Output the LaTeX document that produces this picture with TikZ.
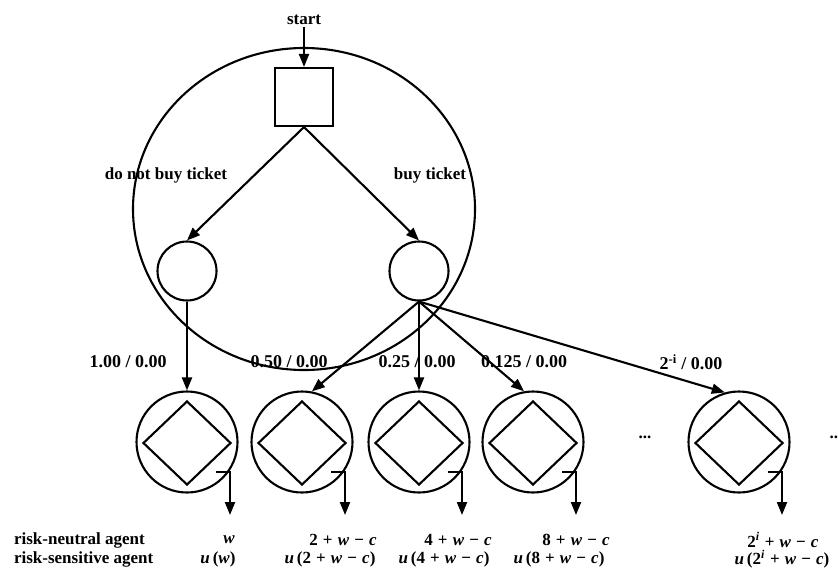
\documentclass[tikz,border=0pt]{standalone}
\usepackage{fontspec}
\setmainfont{Liberation Serif}
\usetikzlibrary{shapes.geometric,arrows.meta}

\newcommand{\itv}[1]{\textit{#1}}
\newcommand{\op}[1]{\hspace{0.3em}#1\hspace{0.3em}}

\tikzset{
  lbl/.style={font=\bfseries\fontsize{17}{19}\selectfont, inner sep=1pt},
  prob/.style={font=\bfseries\fontsize{18}{20}\selectfont, inner sep=1pt},
  arr/.style={-{Triangle[length=13pt,width=10pt]}},
  chance/.style={draw, circle, minimum size=59pt, inner sep=0pt},
  leaf/.style={draw, circle, minimum size=101pt, inner sep=0pt},
  gem/.style={draw, diamond, minimum width=88pt, minimum height=84pt, inner sep=0pt},
}

\begin{document}
\begin{tikzpicture}[x=1pt,y=-1pt,line width=2.1pt]
\useasboundingbox (0,0) rectangle (838,571);

\node[lbl] (start) at (304,20) {start};
\node[draw, minimum size=58pt, inner sep=0pt] (root) at (304,97) {};
\draw (304,209) ellipse [x radius=171pt, y radius=161pt];
\draw[arr] (start) -- (root);

\node[chance] (c1) at (187,271) {};
\node[chance] (c2) at (419,271) {};
\draw[arr] (root.south) -- (c1.north);
\draw[arr] (root.south) -- (c2.north);
\node[lbl] at (166,175) {do not buy ticket};
\node[lbl] at (430,175) {buy ticket};

% outcomes with their payoff arrows
\foreach \i/\x in {1/187,2/302,3/419,4/533,5/739} {
  \node[leaf] (l\i) at (\x,442) {};
  \node[gem] (d\i) at (\x,443) {};
  \coordinate (h\i) at (\x+29,472);
  \coordinate (o\i) at (\x+43,515);
  \draw[arr] (h\i) -| (o\i);
}

\draw[arr] (c1.south) -- (l1.north);
\draw[arr] (c2.south) -- (l2.79);
\draw[arr] (c2.south) -- (l3.north);
\draw[arr] (c2.south) -- (l4.100);
\draw[arr] (c2.south) -- (l5.106);

\node[prob] (p1) at (128,362) {1.00 / 0.00};
\node[prob] (p2) at (289,362) {0.50 / 0.00};
\node[prob] (p3) at (417,362) {0.25 / 0.00};
\node[prob] (p4) at (524,362) {0.125 / 0.00};
\node[prob] (p5) at (691,362) {2\textsuperscript{-i} / 0.00};

\node[lbl] (dots1) at (645,437) {...};
\node[lbl] (dots2) at (836,437) {...};

\node[lbl, anchor=west] (rn) at (12,540) {risk-neutral agent};
\node[lbl, anchor=west] (rs) at (12,559) {risk-sensitive agent};

\node[lbl] (v1) at (229,540) {\itv{w}};
\node[lbl] (v2) at (343,540) {2\op{+}\itv{w}\op{−}\itv{c}};
\node[lbl] (v3) at (458,540) {4\op{+}\itv{w}\op{−}\itv{c}};
\node[lbl] (v4) at (576,540) {8\op{+}\itv{w}\op{−}\itv{c}};
\node[lbl] (v5) at (783,540) {2\textsuperscript{\itv{i}}\op{+}\itv{w}\op{−}\itv{c}};

\node[lbl] (u1) at (218,559) {\itv{u}\,(\itv{w})};
\node[lbl] (u2) at (330,559) {\itv{u}\,(2\op{+}\itv{w}\op{−}\itv{c})};
\node[lbl] (u3) at (444,559) {\itv{u}\,(4\op{+}\itv{w}\op{−}\itv{c})};
\node[lbl] (u4) at (559,559) {\itv{u}\,(8\op{+}\itv{w}\op{−}\itv{c})};
\node[lbl] (u5) at (782,559) {\itv{u}\,(2\textsuperscript{\itv{i}}\op{+}\itv{w}\op{−}\itv{c})};
\end{tikzpicture}
\end{document}
